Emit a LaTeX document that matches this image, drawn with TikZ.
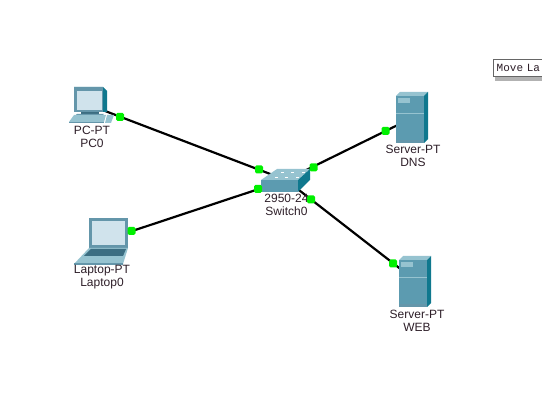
\documentclass[tikz,border=0pt]{standalone}
\usepackage{fontspec}
\setmainfont{Liberation Sans}
\setmonofont{Liberation Mono}
\usepackage{xcolor}
\definecolor{linkgreen}{RGB}{0, 240, 0}
\definecolor{devfront}{RGB}{92, 155, 176}
\definecolor{devside}{RGB}{15, 120, 142}
\definecolor{devtop}{RGB}{150, 195, 208}
\definecolor{devframe}{RGB}{100, 150, 170}
\definecolor{devdark}{RGB}{60, 110, 130}
\definecolor{devscreen}{RGB}{208, 227, 236}
\definecolor{textdark}{RGB}{45, 30, 40}
\tikzset{
    link/.style={draw=black, line width=2.2pt},
    light/.style={fill=linkgreen, rounded corners=1.5pt, minimum size=8pt, inner sep=0pt},
    devlabel/.style={font=\fontsize{12}{13}\selectfont, text=textdark, align=center, inner sep=0pt},
    pics/serverpt/.style={code={
        \fill[devtop] (-1,4) -- (3,0) -- (31,0) -- (27,4) -- cycle;
        \fill[devside] (27,4) -- (31,0) -- (31,47) -- (27,51) -- cycle;
        \fill[devfront] (-1,4) rectangle (27,51);
        \fill[devtop] (1,6) rectangle (13,11);
        \draw[devtop] (-1,21) -- (27,21);
        \fill[devframe] (-1,48) rectangle (27,51);
    }},
    pics/pcpt/.style={code={
        \fill[devside] (4,0) -- (33,0) -- (37,4) -- (37,25) -- (4,25) -- cycle;
        \fill[devframe] (4,0) -- (33,0) -- (33,25) -- (4,25) -- cycle;
        \fill[devscreen] (7,4) rectangle (32,23);
        \fill[devdark] (11,25) rectangle (29,28);
        \fill[devframe] (7,27) -- (34,27) -- (30,31) -- (3,31) -- cycle;
        \fill[devtop] (4,28) -- (36,28) -- (34,35) -- (-1,35) -- cycle;
        \fill[devframe] (-1,35) rectangle (34,36.5);
        \fill[devtop] (37,28) -- (44,28) -- (41,36) -- (35,36) -- cycle;
    }},
    pics/laptoppt/.style={code={
        \fill[devframe] (15,0) rectangle (54,30);
        \fill[devscreen] (18,3) rectangle (51,27);
        \fill[devtop] (15,30) -- (54,30) -- (49,46) -- (0,46) -- cycle;
        \fill[devdark] (17,31) -- (52,31) -- (49,38) -- (10,38) -- cycle;
        \fill[devframe] (0,45.5) rectangle (49,47.5);
    }},
    pics/switchpt/.style={code={
        \fill[devtop] (16,0) -- (49,0) -- (37,11) -- (0,11) -- cycle;
        \fill[devfront] (0,11) rectangle (37,23);
        \fill[devside] (37,11) -- (49,0) -- (49,11) -- (37,23) -- cycle;
        \foreach \portx/\porty in {14/8, 24/8, 35/8, 20/3, 30/3, 41/3}
            \fill[white] (\portx,\porty) rectangle ++(3,1);
    }},
}

\begin{document}
\begin{tikzpicture}[x=1pt, y=-1pt]
    \useasboundingbox (0,0) rectangle (542,417);

    % Device centres
    \coordinate (sw) at (286,180);
    \coordinate (pc) at (92,106);
    \coordinate (laptop) at (102,241);
    \coordinate (dns) at (412,118);
    \coordinate (web) at (416,281);

    % Links
    \draw[link] (pc) -- (sw);
    \draw[link] (laptop) -- (sw);
    \draw[link] (dns) -- (sw);
    \draw[link] (web) -- (sw);

    % Devices
    \pic at (70,87) {pcpt};
    \pic at (74,218) {laptoppt};
    \pic at (261,169) {switchpt};
    \pic at (397,92) {serverpt};
    \pic at (400,256) {serverpt};

    % Labels
    \node[devlabel] (pclabel) at (92,136.5) {PC-PT\\PC0};
    \node[devlabel] (laptoplabel) at (102,277) {Laptop-PT\\Laptop0};
    \node[devlabel] (swlabel) at (286.5,205) {2950-24\\Switch0};
    \node[devlabel] (dnslabel) at (413,156) {Server-PT\\DNS};
    \node[devlabel] (weblabel) at (417,321) {Server-PT\\WEB};

    % Link lights
    \node[light] (pclight) at (120,117) {};
    \node[light] (pcswlight) at (259,169.5) {};
    \node[light] (laptoplight) at (131.5,231) {};
    \node[light] (laptopswlight) at (258,189) {};
    \node[light] (dnslight) at (385.5,131) {};
    \node[light] (dnsswlight) at (313.5,167.5) {};
    \node[light] (weblight) at (393,263.5) {};
    \node[light] (webswlight) at (311,199.5) {};

    % Tooltip
    \fill[black!30] (495,62) rectangle (542,81);
    \node[draw=black!60, fill=white, anchor=north west, minimum width=52pt, minimum height=17pt,
        inner sep=0pt, text=textdark, font=\ttfamily\fontsize{11}{12}\selectfont, text width=46pt, align=left]
        (tooltip) at (492.5,59) {\hspace*{1pt}Move La};
\end{tikzpicture}
\end{document}
